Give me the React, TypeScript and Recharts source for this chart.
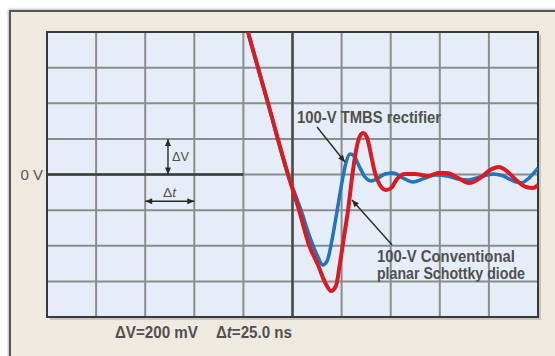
import React from 'react';
import { ComposedChart, Line, XAxis, YAxis, CartesianGrid, ReferenceLine, ReferenceArea, ReferenceDot } from 'recharts';

// scope screen: 10 divisions x 25 ns, 8 divisions x 200 mV
const timeTicks = [0, 25, 50, 75, 100, 125, 150, 175, 200, 225, 250];
const voltTicks = [-800, -600, -400, -200, 0, 200, 400, 600, 800];

// 100-V conventional planar Schottky diode (red)
const redTime = [102.3, 112.5, 122.7, 128.3, 133.4, 138.0, 141.5, 144.6, 147.1, 149.2, 151.2, 153.3, 155.6, 157.4, 158.9, 161.0, 163.0, 165.0, 167.0, 169.5, 172.6, 175.2, 178.2, 182.3, 187.4, 194.0, 199.1, 203.7, 209.3, 214.9, 220.5, 225.6, 230.1, 234.7, 239.3, 243.9, 247.5, 250];
const redVolt = [800, 401, 0, -199, -396, -508, -604, -654, -626, -497, -351, -199, 8, 137, 205, 233, 205, 109, 8, -59, -87, -76, -25, 3, 3, -8, 8, 8, -20, -48, -20, 25, 42, 14, -36, -70, -76, -59];

// 100-V TMBS rectifier (blue)
const blueTime = [102.3, 112.5, 122.7, 129.3, 134.4, 138.0, 140.3, 142.6, 145.1, 147.6, 150.2, 152.2, 154.3, 156.3, 158.9, 161.9, 165.0, 168.0, 172.1, 176.2, 181.3, 186.4, 191.4, 197.6, 203.7, 209.3, 214.4, 220.5, 227.1, 232.2, 237.3, 241.3, 245.4, 250];
const blueVolt = [800, 401, 0, -199, -368, -463, -508, -486, -368, -211, -42, 65, 115, 104, 48, -14, -36, -25, 3, 8, -20, -42, -25, -3, -8, -25, -31, -14, 3, -8, -36, -48, -20, 36];

const redData = redTime.map((t, i) => ({ t, v: redVolt[i] }));
const blueData = blueTime.map((t, i) => ({ t, v: blueVolt[i] }));

const FONT = '"Liberation Sans Narrow", "Liberation Sans", Arial, sans-serif';
const TEXT_COLOR = '#505050';

const ArrowShape = (p: any) => {
  const { x1, y1, x2, y2, both } = p;
  const ang = Math.atan2(y2 - y1, x2 - x1);
  const head = (x: number, y: number, a: number) => {
    const len = 7;
    const w = 3;
    const bx = x - len * Math.cos(a);
    const by = y - len * Math.sin(a);
    const px = -Math.sin(a) * w;
    const py = Math.cos(a) * w;
    return `${x},${y} ${bx + px},${by + py} ${bx - px},${by - py}`;
  };
  return (
    <g>
      <line x1={x1} y1={y1} x2={x2} y2={y2} stroke="#2a2a2a" strokeWidth={1.4} />
      <polygon points={head(x2, y2, ang)} fill="#2a2a2a" />
      {both && <polygon points={head(x1, y1, ang + Math.PI)} fill="#2a2a2a" />}
    </g>
  );
};

const textShape = (content: React.ReactNode, size: number, length?: number, weight = 'bold') => (p: any) => (
  <text
    x={p.cx}
    y={p.cy}
    fontSize={size}
    fontWeight={weight}
    fill={TEXT_COLOR}
    fontFamily={FONT}
    textLength={length}
    lengthAdjust="spacingAndGlyphs"
  >
    {content}
  </text>
);

const PlotFrame = (p: any) => (
  <g>
    <rect x={p.x + 3} y={p.y + 3} width={p.width} height={p.height} fill="#a9a59c" opacity={0.55} />
    <rect x={p.x} y={p.y} width={p.width} height={p.height} fill="#e5eef8" />
  </g>
);

const PlotBorder = (p: any) => (
  <rect x={p.x} y={p.y} width={p.width} height={p.height} fill="none" stroke="#3a3a3a" strokeWidth={2} />
);

export default function App() {
  return (
    <div style={{ position: 'absolute', left: 0, top: 0, width: 555, height: 356, overflow: 'hidden', background: '#fff' }}>
      <div
        style={{
          position: 'absolute', left: 9, top: 10, width: 600, height: 400,
          background: '#eeeae0', borderLeft: '2px solid #555', borderTop: '2px solid #555',
          boxShadow: '-1px -1px 2px #bbb',
        }}
      />
      <ComposedChart
        width={555}
        height={356}
        margin={{ top: 32, right: 17, bottom: 39, left: 0 }}
        style={{ position: 'absolute', left: 0, top: 0, fontFamily: FONT }}
      >
        <XAxis dataKey="t" type="number" domain={[0, 250]} ticks={timeTicks} hide allowDataOverflow />
        <YAxis
          type="number"
          domain={[-800, 800]}
          ticks={voltTicks}
          width={47}
          axisLine={false}
          tickLine={false}
          tickSize={0}
          tickMargin={4}
          interval={0}
          tickFormatter={(v: number) => (v === 0 ? '0 V' : '')}
          tick={{ fontSize: 15, fill: '#555', fontFamily: FONT }}
          allowDataOverflow
        />
        <ReferenceArea x1={0} x2={250} y1={-800} y2={800} shape={PlotFrame} zIndex={-200} />
        <CartesianGrid stroke="#8c8c8c" strokeWidth={2} zIndex={-100} />
        <ReferenceLine x={125} stroke="#4a4a4a" strokeWidth={2.5} zIndex={-90} />
        <ReferenceLine segment={[{ x: 0, y: 0 }, { x: 100, y: 0 }]} stroke="#3a3a3a" strokeWidth={2.5} zIndex={-90} />
        <ReferenceArea x1={0} x2={250} y1={-800} y2={800} shape={PlotBorder} zIndex={-80} />

        <Line data={blueData} dataKey="v" type="monotone" stroke="#1f76bd" strokeWidth={3.5} dot={false} isAnimationActive={false} />
        <Line data={redData} dataKey="v" type="monotone" stroke="#dc1a22" strokeWidth={4} dot={false} isAnimationActive={false} />

        {/* scale markers */}
        <ReferenceLine segment={[{ x: 61.6, y: 0 }, { x: 61.6, y: 200 }]} shape={(p: any) => <ArrowShape {...p} both />} zIndex={2000} />
        <ReferenceLine segment={[{ x: 50, y: -150 }, { x: 75, y: -150 }]} shape={(p: any) => <ArrowShape {...p} both />} zIndex={2000} />
        <ReferenceDot x={63.6} y={76} ifOverflow="visible" shape={textShape('ΔV', 12, 17, 'normal')} zIndex={2000} />
        <ReferenceDot x={59.1} y={-126} ifOverflow="visible" shape={textShape(<>Δ<tspan fontStyle="italic">t</tspan></>, 12, 13, 'normal')} zIndex={2000} />

        {/* callouts */}
        <ReferenceLine segment={[{ x: 137.5, y: 267 }, { x: 151.7, y: 70 }]} shape={(p: any) => <ArrowShape {...p} />} zIndex={2000} />
        <ReferenceLine segment={[{ x: 175.7, y: -396 }, { x: 155.3, y: -143 }]} shape={(p: any) => <ArrowShape {...p} />} zIndex={2000} />
        <ReferenceDot x={127.3} y={289} ifOverflow="visible" shape={textShape('100-V TMBS rectifier', 16, 144)} zIndex={2000} />
        <ReferenceDot x={168.0} y={-494} ifOverflow="visible" shape={textShape('100-V  Conventional', 16, 138)} zIndex={2000} />
        <ReferenceDot x={168.0} y={-584} ifOverflow="visible" shape={textShape('planar Schottky diode', 16, 148)} zIndex={2000} />

        {/* scale readout */}
        <ReferenceDot x={34.6} y={-918} ifOverflow="visible" shape={textShape('ΔV=200 mV', 16, 83)} zIndex={2000} />
        <ReferenceDot x={86.0} y={-918} ifOverflow="visible" shape={textShape(<>Δ<tspan fontStyle="italic">t</tspan>=25.0 ns</>, 16, 76)} zIndex={2000} />
      </ComposedChart>
    </div>
  );
}
